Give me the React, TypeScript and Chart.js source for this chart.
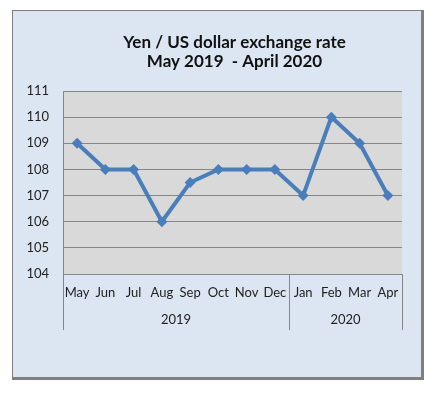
import React, { useEffect, useRef } from "react";
import { Chart, registerables } from "chart.js";

Chart.register(...registerables);

const categories = ["May", "Jun", "Jul", "Aug", "Sep", "Oct", "Nov", "Dec", "Jan", "Feb", "Mar", "Apr"];
const rates = [109, 108, 108, 106, 107.5, 108, 108, 108, 107, 110, 109, 107];
const yearLabels = ["2019", "2020"];
const yearSpans = [8, 4];
const titleLines = ["Yen / US dollar exchange rate", "May 2019  - April 2020"];
const yMin = 104;
const yMax = 111;

const FONT = "Lato, 'Open Sans', sans-serif";
const GRID = "#868686";

const titlePlugin = {
  id: "twoLineTitle",
  afterDraw(chart: any) {
    const { ctx, chartArea } = chart;
    const cx = (chartArea.left + chartArea.right) / 2 + 2;
    ctx.save();
    ctx.fillStyle = "#111";
    ctx.font = `bold 17px ${FONT}`;
    ctx.textAlign = "center";
    ctx.textBaseline = "middle";
    titleLines.forEach((line, i) => {
      ctx.fillText(line, cx, chartArea.top - 48 + i * 19);
    });
    ctx.restore();
  },
};

const groupAxisPlugin = {
  id: "groupAxis",
  afterDraw(chart: any) {
    const { ctx, chartArea } = chart;
    const x = chart.scales.x;
    const half = (x.getPixelForValue(1) - x.getPixelForValue(0)) / 2;
    const top = chartArea.bottom;
    const bottom = chartArea.bottom + 56;
    ctx.save();
    ctx.strokeStyle = GRID;
    ctx.lineWidth = 1;
    let start = 0;
    const edges: number[] = [x.getPixelForValue(0) - half];
    yearSpans.forEach((span) => {
      const end = start + span - 1;
      edges.push(x.getPixelForValue(end) + half);
      start += span;
    });
    edges.forEach((px) => {
      const p = Math.round(px) + 0.5;
      ctx.beginPath();
      ctx.moveTo(p, top);
      ctx.lineTo(p, bottom);
      ctx.stroke();
    });
    ctx.fillStyle = "#222";
    ctx.font = `13px ${FONT}`;
    ctx.textAlign = "center";
    ctx.textBaseline = "middle";
    yearLabels.forEach((label, i) => {
      ctx.fillText(label, (edges[i] + edges[i + 1]) / 2, chartArea.bottom + 46);
    });
    ctx.restore();
  },
};

const plotBgPlugin = {
  id: "plotBg",
  beforeDraw(chart: any) {
    const { ctx, chartArea } = chart;
    ctx.save();
    ctx.fillStyle = "#d9d9d9";
    ctx.fillRect(chartArea.left, chartArea.top, chartArea.right - chartArea.left, chartArea.bottom - chartArea.top);
    ctx.restore();
  },
};

export default function App() {
  const ref = useRef<HTMLCanvasElement | null>(null);

  useEffect(() => {
    if (!ref.current) return;
    const chart = new Chart(ref.current, {
      type: "line",
      data: {
        labels: categories,
        datasets: [
          {
            data: rates,
            borderColor: "#4a7ebb",
            backgroundColor: "#4a7ebb",
            borderWidth: 4,
            pointStyle: "rectRot",
            pointRadius: 5.5,
            pointBorderWidth: 0,
            tension: 0,
          },
        ],
      },
      options: {
        animation: false,
        responsive: false,
        devicePixelRatio: 1,
        layout: { padding: { left: 0, right: 19, top: 80, bottom: 0 } },
        plugins: {
          legend: { display: false },
          tooltip: { enabled: false },
          title: { display: false },
        },
        scales: {
          x: {
            offset: true,
            grid: { display: false, drawTicks: false },
            border: { display: false },
            ticks: {
              color: "#222",
              font: { family: FONT, size: 13 },
              padding: 11,
              maxRotation: 0,
              autoSkip: false,
            },
            afterFit(scale: any) {
              scale.height = 103;
            },
          },
          y: {
            min: yMin,
            max: yMax,
            ticks: {
              stepSize: 1,
              color: "#222",
              font: { family: FONT, size: 13 },
              padding: 14,
            },
            grid: { color: GRID, drawTicks: false, lineWidth: 1 },
            border: { display: true, color: GRID, width: 1 },
            afterFit(scale: any) {
              scale.width = 50;
            },
          },
        },
      },
      plugins: [plotBgPlugin, groupAxisPlugin, titlePlugin],
    });
    return () => chart.destroy();
  }, []);

  return (
    <div
      style={{
        marginLeft: 4,
        marginTop: 2,
        width: 412,
        height: 370,
        boxSizing: "border-box",
        background: "#dce6f2",
        borderStyle: "solid",
        borderColor: "#7f7f7f",
        borderWidth: "1px 3px 3px 1px",
      }}
    >
      <canvas ref={ref} width={408} height={366} style={{ display: "block" }} />
    </div>
  );
}
